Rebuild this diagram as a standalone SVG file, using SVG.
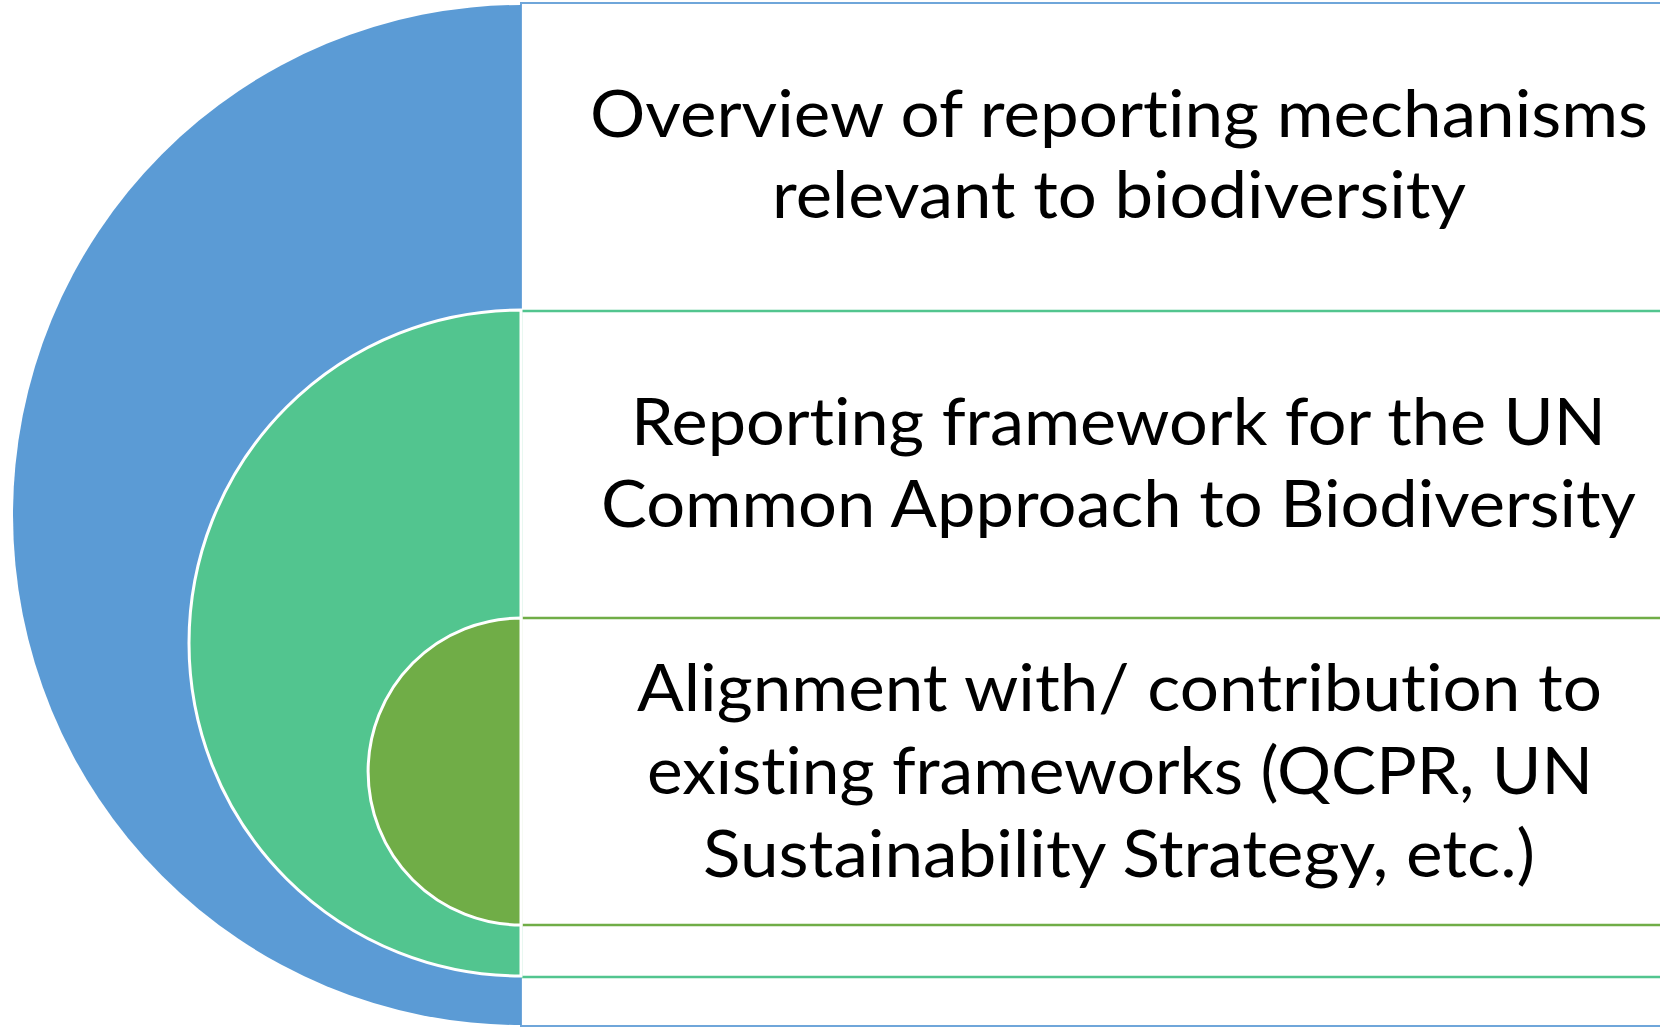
<svg xmlns="http://www.w3.org/2000/svg" width="1660" height="1027" viewBox="0 0 1660 1027">
<style>
.lbl{font-family:Lato,"Open Sans","Liberation Sans",sans-serif;font-size:65px;fill:#000;font-variant-ligatures:none;font-feature-settings:"liga" 0}
.box{fill:#fff}
.half{stroke:#fff;stroke-width:3}
</style>
<rect width="1660" height="1027" fill="#fff"/>
<g id="box-outer">
<rect class="box" x="521" y="3" width="1160" height="1023" stroke="#6FA6DA" stroke-width="2"/>
</g>
<g id="box-middle">
<rect class="box" x="521" y="311" width="1160" height="666" stroke="#52C58F" stroke-width="2.5"/>
</g>
<g id="box-inner">
<rect class="box" x="521" y="618" width="1160" height="307" stroke="#70AD47" stroke-width="2.5"/>
</g>
<g id="half-outer">
<path d="M521,5 A508,510 0 0 0 521,1025 Z" fill="#5B9BD5"/>
</g>
<g id="half-middle">
<path class="half" d="M521,310 A332,333 0 0 0 521,976 Z" fill="#52C58F"/>
</g>
<g id="half-inner">
<path class="half" d="M521,618 A153,153.5 0 0 0 521,925 Z" fill="#70AD47"/>
</g>
<g id="text-outer">
<text class="lbl" x="590" y="137" textLength="1058" lengthAdjust="spacingAndGlyphs">Overview of reporting mechanisms</text>
<text class="lbl" x="772" y="218" textLength="694" lengthAdjust="spacingAndGlyphs">relevant to biodiversity</text>
</g>
<g id="text-middle">
<text class="lbl" x="631" y="445" textLength="975" lengthAdjust="spacingAndGlyphs">Reporting framework for the UN</text>
<text class="lbl" x="601" y="527" textLength="1035" lengthAdjust="spacingAndGlyphs">Common Approach to Biodiversity</text>
</g>
<g id="text-inner">
<text class="lbl" x="637" y="711" textLength="965" lengthAdjust="spacingAndGlyphs">Alignment with/ contribution to</text>
<text class="lbl" x="647" y="794" textLength="946" lengthAdjust="spacingAndGlyphs">existing frameworks (QCPR, UN</text>
<text class="lbl" x="703" y="877" textLength="832" lengthAdjust="spacingAndGlyphs">Sustainability Strategy, etc.)</text>
</g>
<g id="connectors"></g>
</svg>
